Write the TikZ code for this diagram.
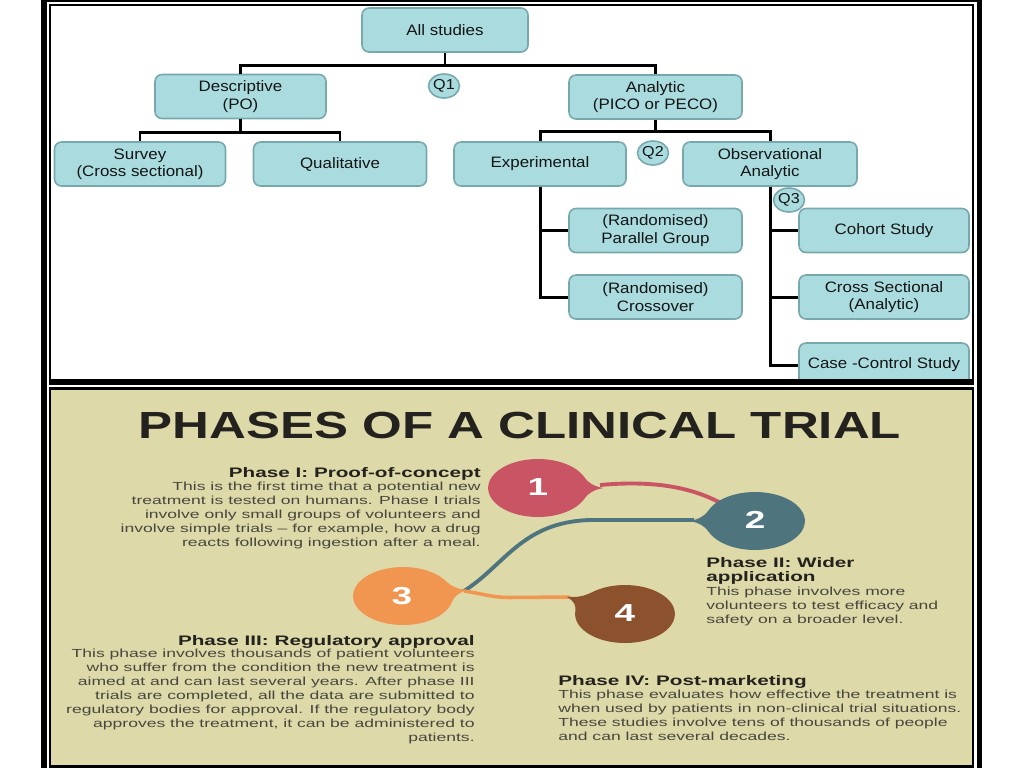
\documentclass[tikz,border=0pt]{standalone}
\usepackage{fontspec}
\setmainfont{Liberation Sans}
\newfontfamily\boxfont[FakeStretch=1.12]{Liberation Sans}
\newfontfamily\widefont[FakeStretch=1.5]{Liberation Sans}
\newfontfamily\titlefont[FakeStretch=1.35]{Liberation Sans}
\usetikzlibrary{positioning, shapes.geometric}

\definecolor{boxfill}{RGB}{170,220,223}
\definecolor{boxline}{RGB}{118,168,174}
\definecolor{paper}{RGB}{222,217,168}
\definecolor{inkgray}{RGB}{72,70,62}
\definecolor{heading}{RGB}{36,34,30}
\definecolor{dropred}{RGB}{201,85,100}
\definecolor{dropteal}{RGB}{78,116,126}
\definecolor{droporange}{RGB}{240,150,80}
\definecolor{dropbrown}{RGB}{140,82,46}

\newcommand{\pxu}{0.02cm}
% teardrop: centre, angle of the tip, colour
\newcommand{\teardrop}[3]{%
  \fill[#3, shift={(#1)}, xscale=1.72, rotate=#2]
    (38,0) to[out=162,in=-68] (22:29)
    arc[start angle=22, end angle=338, radius=29]
    to[out=68,in=198] (38,0) -- cycle;}

\begin{document}
\begin{tikzpicture}[x=0.02cm, y=0.02cm,
    link/.style={line width=1.7pt, black},
    studybox/.style={draw=boxline, fill=boxfill, line width=0.9pt, rounded corners=4pt,
      minimum width=171*\pxu, minimum height=44*\pxu, inner sep=1pt, align=center,
      text=black!92, font=\boxfont\fontsize{8.6}{9.9}\selectfont},
    qmark/.style={ellipse, draw=boxline, fill=boxfill, line width=0.9pt,
      minimum width=31*\pxu, minimum height=24*\pxu, inner sep=0pt,
      text=black!92, font=\boxfont\fontsize{8.2}{8.2}\selectfont},
    headtxt/.style={inner sep=0pt, text=heading, font=\widefont\bfseries\fontsize{7.85}{7.5}\selectfont},
    bodytxt/.style={inner sep=0pt, text=inkgray, font=\widefont\fontsize{6.66}{7.97}\selectfont},
    dropnum/.style={inner sep=0pt, text=white, font=\widefont\bfseries\fontsize{14}{14}\selectfont},
    trail/.style={line width=2.2pt},
]
\useasboundingbox (0,0) rectangle (1024,-768);
% === Frame ===
\fill[white] (0,0) rectangle (1024,-768);
\fill[black] (41,0) rectangle (982,-768);
\fill[white] (46.7,-1.5) rectangle (976.7,-768);
\fill[black] (48.7,-4) rectangle (974.3,-390);
\fill[white] (50.7,-6) rectangle (972.3,-378.5);
\fill[white] (48.7,-385) rectangle (974.3,-386.7);
\fill[black] (48.7,-390) rectangle (974.3,-768);
\fill[paper] (50.7,-390) rectangle (972.3,-765);

% === Study types ===
\begin{scope}
\clip (50.7,-6) rectangle (972.3,-378.5);
\node[studybox, minimum width=166*\pxu] (allst) at (445,-30) {All studies};
\node[studybox] (desc) at (240.5,-96.5) {Descriptive\\(PO)};
\node[studybox, minimum width=173*\pxu] (anal) at (655.5,-97) {Analytic\\(PICO or PECO)};
\node[studybox] (survey) at (140,-164) {Survey\\(Cross sectional)};
\node[studybox, minimum width=173*\pxu] (qual) at (340,-164) {Qualitative};
\node[studybox, minimum width=172*\pxu] (exper) at (540,-164) {Experimental};
\node[studybox, minimum width=174*\pxu] (obs) at (770,-164) {Observational\\Analytic};
\node[studybox, minimum width=173*\pxu] (par) at (655.5,-230.5) {(Randomised)\\Parallel Group};
\node[studybox, minimum width=173*\pxu] (cross) at (655.5,-297) {(Randomised)\\Crossover};
\node[studybox, minimum width=170*\pxu] (cohort) at (884,-230.5) {Cohort Study};
\node[studybox, minimum width=170*\pxu] (xsec) at (884,-297) {Cross Sectional\\(Analytic)};
\node[studybox, minimum width=170*\pxu] (casec) at (884,-365) {Case -Control Study};
\node[qmark] (q1) at (444,-86) {Q1};
\node[qmark] (q2) at (653,-153) {Q2};
\node[qmark] (q3) at (789,-200) {Q3};
% connectors
\draw[link] (allst.south) -- ++(0,-13) coordinate (j1);
\draw[link] (desc.north) |- (j1) -| (anal.north);
\draw[link] (desc.south) -- ++(0,-13) coordinate (j2);
\draw[link] (survey.north) |- (j2) -| (qual.north);
\draw[link] (anal.south) -- ++(0,-12) coordinate (j3);
\draw[link] (exper.north) |- (j3) -| (obs.north);
\draw[link] (exper.south) |- (par.west);
\draw[link] (exper.south) |- (cross.west);
\draw[link] (obs.south) |- (cohort.west);
\draw[link] (obs.south) |- (xsec.west);
\draw[link] (obs.south) |- (casec.west);
\end{scope}

% === Clinical trial phases ===
\node[anchor=base, text=heading, font=\titlefont\bfseries\fontsize{21.5}{21.5}\selectfont]
  (title) at (520,-438) {PHASES OF A CLINICAL TRIAL};

\coordinate (tip1) at (600,-485);
\coordinate (tip2) at (694,-520);
\coordinate (tip3) at (464,-591);
\coordinate (tip4) at (570,-597);
\draw[trail, dropred] (tip1) .. controls (655,-480) and (700,-487) .. (735,-512);
\draw[trail, dropteal] (tip3) .. controls (505,-565) and (522,-522) .. (590,-520) -- (tip2);
\draw[trail, droporange, line width=2pt] (tip3) to[out=-8,in=180] (510,-597.5) -- (tip4);
\teardrop{538,-488}{0}{dropred}
\teardrop{755,-521}{180}{dropteal}
\teardrop{403,-596}{9}{droporange}
\teardrop{625,-614}{153}{dropbrown}
\node[dropnum] (n1) at (538,-487) {1};
\node[dropnum] (n2) at (755,-520) {2};
\node[dropnum] (n3) at (402,-596) {3};
\node[dropnum] (n4) at (625,-613) {4};

\node[headtxt, anchor=base east] (h1) at (481,-477.3) {Phase I: Proof-of-concept};
\node[bodytxt, align=right, anchor=north east] (b1) at (481,-481.5)
  {This is the first time that a potential new\\treatment is tested on humans. Phase I trials\\involve only small groups of volunteers and\\involve simple trials – for example, how a drug\\reacts following ingestion after a meal.};
\node[headtxt, align=left, anchor=north west] (h2) at (706,-557.5)
  {Phase II: Wider\\application};
\node[bodytxt, align=left, anchor=north west] (b2) at (706,-587)
  {This phase involves more\\volunteers to test efficacy and\\safety on a broader level.};
\node[headtxt, anchor=base east] (h3) at (475,-645) {Phase III: Regulatory approval};
\node[bodytxt, align=right, anchor=north east] (b3) at (475,-649)
  {This phase involves thousands of patient volunteers\\who suffer from the condition the new treatment is\\aimed at and can last several years. After phase III\\trials are completed, all the data are submitted to\\regulatory bodies for approval. If the regulatory body\\approves the treatment, it can be administered to\\patients.};
\node[headtxt, anchor=base west] (h4) at (558,-685) {Phase IV: Post-marketing};
\node[bodytxt, align=left, anchor=north west] (b4) at (558,-689.8)
  {This phase evaluates how effective the treatment is\\when used by patients in non-clinical trial situations.\\These studies involve tens of thousands of people\\and can last several decades.};
\end{tikzpicture}
\end{document}
